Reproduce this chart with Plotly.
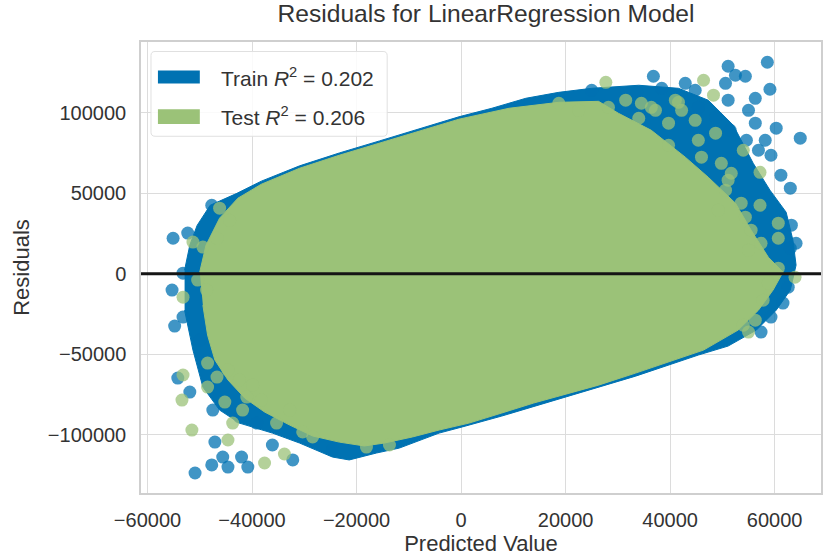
import plotly.graph_objects as go

# ---- residual plot data (predicted value, residual) ----
# dense core of the training residuals (outline of the blue cloud)
train_core_x = [-52900, -51900, -50500, -48000, -42900, -38200, -30900, -23300, -15600, -8000,
                -400, 5900, 12400, 18700, 25000, 34000, 41600, 47300, 52100, 55900,
                59100, 62200, 63500, 64100, 63000, 60300, 56500, 51100, 45400, 33400,
                20600, 7800, 200, -4200, -11800, -16200, -21400, -24600, -30900, -36100,
                -42400, -46200, -49400, -51300, -52900]
train_core_y = [2200, 17700, 30000, 42500, 49900, 57500, 67000, 75000, 82500, 90000,
                97500, 102800, 109000, 112700, 115200, 117100, 115200, 107800, 92200, 68600,
                51900, 38200, 20800, 5300, -10200, -22700, -35100, -45000, -50600, -63700,
                -76100, -88500, -95300, -99100, -108400, -111500, -115800, -114000, -105300, -99100,
                -92900, -84800, -70500, -47500, -22700]

# dense core of the test residuals (outline of the green cloud)
test_core_x = [-50000, -48800, -46200, -42700, -38200, -30900, -23300, -15600, -8000, -400,
               9200, 18700, 26300, 30100, 36400, 42900, 47300, 52500, 55500, 58800,
               61600, 59700, 56900, 53000, 46400, 39700, 33400, 26300, 20600, 13900,
               7800, 1500, -4200, -9300, -14700, -18500, -23300, -28400, -32800, -37600,
               -41400, -44600, -47100, -48500, -49400]
test_core_y = [1000, 17700, 34500, 46900, 55600, 65500, 73600, 81100, 88500, 96000,
               102800, 106500, 107100, 99700, 89100, 72400, 59900, 43800, 27000, 10200,
               900, -10200, -22700, -35100, -47500, -55000, -61800, -69300, -74200, -80400,
               -86600, -92900, -97200, -101500, -105300, -107100, -104700, -100900, -94100, -86000,
               -77300, -66100, -53700, -38200, -19600]

# scattered training residuals outside the dense core
train_pts_x = [36800, 33600, 38400, 42900, 51100, 52500, 54400, 58600, 59100, 50600,
               51100, 56300, 55000, 56300, 60300, 64900, 58200, 54600, 51500, 44800,
               45400, 48700, 59300, 56900, 25000, 61200, 63000, 64100, 63000, 63200,
               61600, 59300, 62600, 57400,
               -55100, -55300, -52300, -47700, -54800, -53200, -50000, -54200, -51900, -47100,
               -45600, -47700, -50900, -44600, -42000, -40800, -36100, -32200, -47500, -42400,
               -39100, -24600, -18100, -53200]
train_pts_y = [122700, 112700, 115200, 118300, 128900, 123300, 122700, 131400, 114600, 118300,
               107800, 109000, 101500, 93500, 90400, 84200, 82900, 82900, 89100, 114000,
               103400, 97200, 73600, 76700, 114000, 61200, 53100, 18900, 15800, 30100,
               -18300, -27000, -8400, -36300,
               22000, -10200, 25200, 42500, -32600, -27000, -41300, -64900, -73600, -104700,
               -114000, -118900, -123900, -120200, -114000, -120200, -106500, -115800, -84800, -89100,
               -92900, -109600, -98400, 300]

# scattered test residuals outside the dense core
test_pts_x = [46400, 48300, 44800, 48700, 41600, 36400, 27700, 57200, 60700, 60700,
              60700, 63900, 56300, 55000, 34000, 39700, 45400, 51100, 54000, 57200, 49200,
              18700, 22500, 28200, 31500, 34500, 37200, 41000, 42200, 39700, 46000,
              49800, 51700, 50600, 53600, 54400, 55500, 57400, 55000, 58800, 57800, 54000,
              -46200, -51300, -53200, -50400, -53200, -53400, -51500, -44600, -37600, -33800,
              -45200, -43700, -48500,
              -48500, -46700, -44600, -42400, -41000, -39900, -41800, -38200, -35300, -32800,
              -30300, -28400, -18100, -13700, -44300, -46700, -49400, -48700]
test_pts_y = [120200, 110900, 95300, 87300, 106500, 103400, 118900, 63000, 31400, 22000,
              3400, -2200, -28900, -36300, 96600, 79800, 82900, 58100, 76700, 42500, 39400,
              105900, 101500, 103400, 107800, 105900, 101500, 107800, 101500, 93500, 72400,
              68600, 62400, 51900, 43800, 35100, 27000, 18900, 14600, -5900, -16500, -32000,
              40700, 19600, -14600, -4000, -63000, -78600, -97200, -103400, -117700, -112100,
              -79800, -92900, -70500,
              -55600, -64300, -59900, -66100, -76700, -69300, -84800, -78600, -92900, -84800,
              -98400, -101500, -107800, -106500, 33200, 22000, 16500, -10200]

x_ticks = [-60000, -40000, -20000, 0, 20000, 40000, 60000]
y_ticks = [-100000, -50000, 0, 50000, 100000]
train_r2 = 0.202
test_r2 = 0.206

BLUE = "rgb(0,114,178)"
GREEN = "rgb(155,194,120)"
FONT = "Liberation Sans"
TEXT = "#333333"
MSIZE = 13


def fmt(v):
    return str(v).replace("-", "\u2212")


fig = go.Figure()

# training cloud: dense core then sparse points
fig.add_trace(go.Scatter(
    x=train_core_x, y=train_core_y, mode="lines", fill="toself",
    fillcolor=BLUE, line=dict(color=BLUE, width=1),
    hoverinfo="skip", showlegend=False))
fig.add_trace(go.Scatter(
    x=train_pts_x, y=train_pts_y, mode="markers",
    marker=dict(color=BLUE, size=MSIZE, opacity=0.75, line=dict(width=0)),
    showlegend=False))

# test cloud on top
fig.add_trace(go.Scatter(
    x=test_core_x, y=test_core_y, mode="lines", fill="toself",
    fillcolor=GREEN, line=dict(color=GREEN, width=1),
    hoverinfo="skip", showlegend=False))
fig.add_trace(go.Scatter(
    x=test_pts_x, y=test_pts_y, mode="markers",
    marker=dict(color=GREEN, size=MSIZE, opacity=0.75, line=dict(width=0)),
    showlegend=False))

# zero-residual reference line
fig.add_shape(type="line", xref="paper", x0=0, x1=1, yref="y", y0=0, y1=0,
              line=dict(color="#151515", width=3), layer="above")

# legend box with colour patches
L, R, T, B = 0.0147, 0.362, 0.979, 0.791
rr = 0.006
fig.add_shape(type="path", xref="paper", yref="paper",
              path=(f"M {L+rr},{B} L {R-rr},{B} Q {R},{B} {R},{B+rr*1.5} "
                    f"L {R},{T-rr*1.5} Q {R},{T} {R-rr},{T} L {L+rr},{T} "
                    f"Q {L},{T} {L},{T-rr*1.5} L {L},{B+rr*1.5} Q {L},{B} {L+rr},{B} Z"),
              fillcolor="rgba(255,255,255,0.85)", line=dict(color="#e0e0e0", width=1),
              layer="above")
fig.add_shape(type="rect", xref="paper", yref="paper", x0=0.0249, x1=0.0865,
              y0=0.908, y1=0.937, fillcolor=BLUE, line=dict(width=0), layer="above")
fig.add_shape(type="rect", xref="paper", yref="paper", x0=0.0249, x1=0.0865,
              y0=0.818, y1=0.851, fillcolor=GREEN, line=dict(width=0), layer="above")
fig.add_annotation(xref="paper", yref="paper", x=0.1144, y=0.922, xanchor="left",
                   yanchor="middle", showarrow=False,
                   text=f"Train <i>R</i><sup>2</sup> = {train_r2:.3f}",
                   font=dict(family=FONT, size=21, color=TEXT))
fig.add_annotation(xref="paper", yref="paper", x=0.1144, y=0.835, xanchor="left",
                   yanchor="middle", showarrow=False,
                   text=f"Test <i>R</i><sup>2</sup> = {test_r2:.3f}",
                   font=dict(family=FONT, size=21, color=TEXT))

fig.update_layout(
    width=823, height=556,
    margin=dict(l=141, r=0, t=42, b=63),
    paper_bgcolor="white", plot_bgcolor="white",
    font=dict(family=FONT, color=TEXT, size=20),
    title=dict(text="Residuals for LinearRegression Model", x=486 / 823, xref="container",
               xanchor="center", y=1 - 13 / 556, yref="container", yanchor="middle",
               font=dict(family=FONT, size=24.6, color=TEXT)),
    showlegend=False,
)
fig.update_xaxes(
    range=[-61240, 68870], tickvals=x_ticks, ticktext=[fmt(v) for v in x_ticks],
    showgrid=True, gridcolor="#dcdcdc", gridwidth=1.3, zeroline=False,
    showline=True, mirror=True, linecolor="#cfcfcf", linewidth=1.5,
    ticks="", ticklabelstandoff=8, tickfont=dict(size=20, color=TEXT),
    title=dict(text="Predicted Value", standoff=4, font=dict(size=22, color=TEXT)))
fig.update_yaxes(
    range=[-136340, 143980], tickvals=y_ticks, ticktext=[fmt(v) for v in y_ticks],
    showgrid=True, gridcolor="#dcdcdc", gridwidth=1.3, zeroline=False,
    showline=True, mirror=True, linecolor="#cfcfcf", linewidth=1.5,
    ticks="", ticklabelstandoff=9, tickfont=dict(size=20, color=TEXT),
    title=dict(text="Residuals", standoff=12, font=dict(size=22, color=TEXT)))

fig.write_html("out.html")
